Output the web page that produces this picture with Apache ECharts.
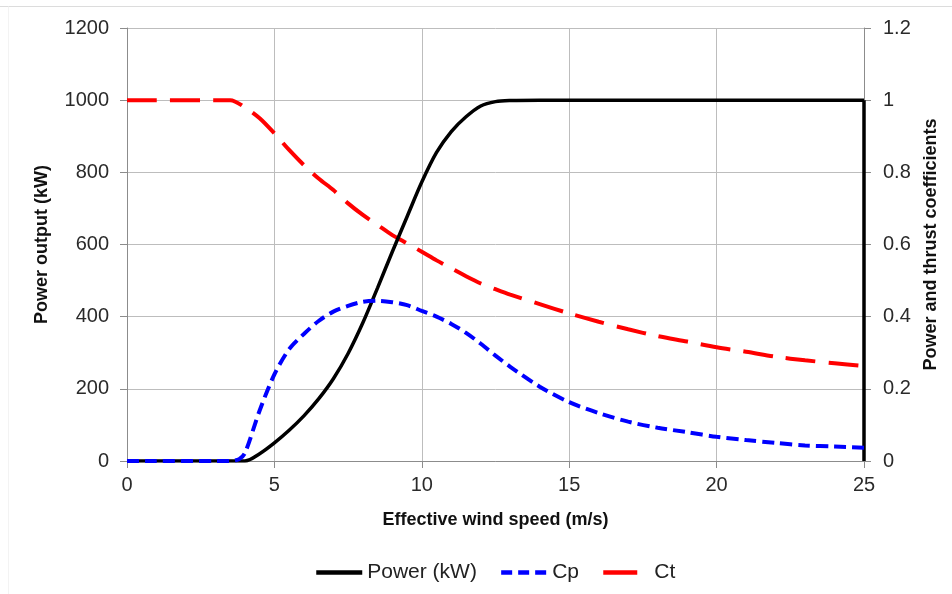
<!DOCTYPE html>
<html><head><meta charset="utf-8">
<script src="https://cdn.jsdelivr.net/npm/echarts@6/dist/echarts.min.js"></script>
<style>html,body{margin:0;padding:0;background:#fff}#c{width:952px;height:594px}</style>
</head><body><div id="c"></div>
<script>
const powerX = [0, 3.5, 4, 4.5, 5, 5.5, 6, 6.5, 7, 7.5, 8, 8.5, 9, 9.5, 10, 10.5, 11, 11.5, 12, 12.5, 13, 14, 25];
const powerY = [0, 0, 0, 20, 50, 85, 125, 172, 228, 298, 383, 480, 580, 677, 773, 855, 913, 954, 984, 996, 999, 1000, 1000];
const powerDropX = [25, 25];
const powerDropY = [1000, 0];
const cpX = [0, 3.5, 3.8, 4, 4.5, 5, 5.5, 6, 6.5, 7, 7.5, 8, 8.5, 9, 9.5, 10, 10.5, 11, 11.5, 12, 12.5, 13, 14, 15, 16, 17, 18, 19, 20, 21, 22, 23, 24, 25];
const cpY = [0, 0, 0.005, 0.022, 0.14, 0.24, 0.31, 0.352, 0.388, 0.414, 0.43, 0.441, 0.444, 0.44, 0.432, 0.416, 0.4, 0.38, 0.355, 0.325, 0.292, 0.261, 0.206, 0.163, 0.133, 0.109, 0.092, 0.08, 0.067, 0.058, 0.05, 0.043, 0.04, 0.037];
const ctX = [0, 3.5, 4, 4.5, 5, 5.5, 6, 6.5, 7, 7.5, 8, 8.5, 9, 9.5, 10, 10.5, 11, 11.5, 12, 12.5, 13, 14, 15, 16, 17, 18, 19, 20, 21, 22, 23, 24, 25];
const ctY = [1, 1, 0.98, 0.95, 0.908, 0.862, 0.82, 0.783, 0.751, 0.714, 0.682, 0.654, 0.626, 0.603, 0.58, 0.556, 0.534, 0.512, 0.492, 0.476, 0.461, 0.435, 0.409, 0.386, 0.365, 0.346, 0.331, 0.315, 0.303, 0.289, 0.279, 0.271, 0.263];

const zip = (a, b) => a.map((v, i) => [v, b[i]]);
const chart = echarts.init(document.getElementById('c'), null, {renderer: 'canvas'});
const font = 'Liberation Sans, Arial, sans-serif';
const axisLineStyle = {show: true, lineStyle: {color: '#8c8c8c', width: 1}};
const tick = {show: true, length: 7, lineStyle: {color: '#8c8c8c'}};
const nameStyle = {fontSize: 18, fontWeight: 'bold', color: '#111', fontFamily: font};
const labelStyle = {fontSize: 20, color: '#2a2a2a', fontFamily: font};
chart.setOption({
  animation: false,
  backgroundColor: '#fff',
  textStyle: {fontFamily: font},
  graphic: [
    {type: 'line', shape: {x1: 0, y1: 6.5, x2: 952, y2: 6.5}, style: {stroke: '#dcdcdc', lineWidth: 1}},
    {type: 'line', shape: {x1: 8.5, y1: 6.5, x2: 8.5, y2: 594}, style: {stroke: '#f3f3f3', lineWidth: 1}}
  ],
  grid: {left: 127, right: 88, top: 28, bottom: 133, outerBoundsMode: 'none', containLabel: false},
  legend: {
    bottom: 6, left: 309, itemWidth: 46, itemHeight: 14, itemGap: 22,
    textStyle: {fontSize: 21, color: '#222', fontFamily: font},
    itemStyle: {opacity: 0},
    lineStyle: {width: 4.5},
    data: [
      {name: 'Power (kW)'},
      {name: 'Cp', lineStyle: {width: 4.5, type: [11, 6]}},
      {name: 'Ct', lineStyle: {width: 4.5, type: [34, 20]}}
    ]
  },
  xAxis: {
    type: 'value', min: 0, max: 25, interval: 5,
    name: 'Effective wind speed (m/s)', nameLocation: 'middle', nameGap: 50,
    nameTextStyle: nameStyle,
    axisLine: axisLineStyle, axisTick: tick,
    axisLabel: Object.assign({margin: 14}, labelStyle),
    splitLine: {show: true, lineStyle: {color: '#bdbdbd', width: 1}}
  },
  yAxis: [{
    type: 'value', min: 0, max: 1200, interval: 200,
    name: 'Power output (kW)', nameLocation: 'middle', nameGap: 76,
    nameTextStyle: nameStyle,
    axisLine: axisLineStyle, axisTick: tick,
    axisLabel: Object.assign({margin: 18, formatter: v => String(v)}, labelStyle),
    splitLine: {show: true, lineStyle: {color: '#bdbdbd', width: 1}}
  }, {
    type: 'value', min: 0, max: 1.2, interval: 0.2,
    name: 'Power and thrust coefficients', nameLocation: 'middle', nameGap: 53, nameRotate: 90,
    nameTextStyle: nameStyle,
    axisLine: axisLineStyle, axisTick: tick,
    axisLabel: Object.assign({margin: 19, formatter: v => String(+v.toFixed(1))}, labelStyle),
    splitLine: {show: false}
  }],
  series: [
    {name: 'Power (kW)', type: 'line', yAxisIndex: 0, data: zip(powerX, powerY), symbol: 'none', smooth: 0.3,
     lineStyle: {color: '#000', width: 3.5}, itemStyle: {color: '#000'}, z: 4},
    {name: 'Power (kW)', type: 'line', yAxisIndex: 0, data: zip(powerDropX, powerDropY), symbol: 'none', smooth: false,
     lineStyle: {color: '#000', width: 3.5}, itemStyle: {color: '#000'}, z: 4},
    {name: 'Cp', type: 'line', yAxisIndex: 1, data: zip(cpX, cpY), symbol: 'none', smooth: 0.3,
     lineStyle: {color: '#0000ff', width: 4, type: [12, 6]}, itemStyle: {color: '#0000ff'}, z: 5},
    {name: 'Ct', type: 'line', yAxisIndex: 1, data: zip(ctX, ctY), symbol: 'none', smooth: 0.3,
     lineStyle: {color: '#ff0000', width: 4, type: [30, 13]}, itemStyle: {color: '#ff0000'}, z: 3}
  ]
});
</script></body></html>
